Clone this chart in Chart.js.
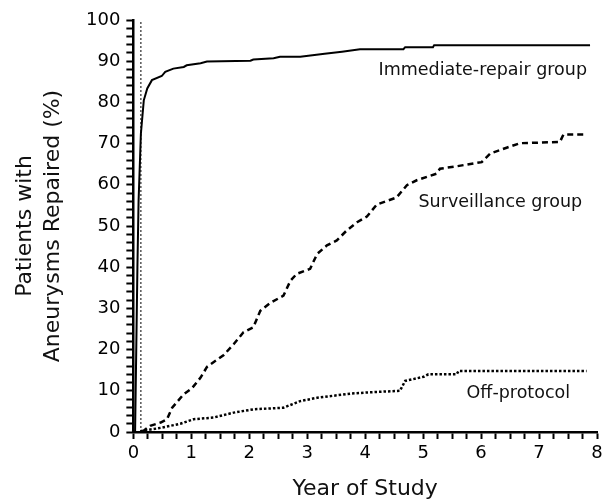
<!DOCTYPE html>
<html>
<head>
<meta charset="utf-8">
<script src="https://cdn.jsdelivr.net/npm/chart.js@4"></script>
<style>
  html, body { margin: 0; padding: 0; background: #fff; }
  #wrap { width: 602px; height: 502px; }
</style>
</head>
<body>
<div id="wrap"><canvas id="repairChart"></canvas></div>
<script>
// values
const repairYears = [0.03, 0.05, 0.07, 0.09, 0.13, 0.18, 0.24, 0.32, 0.49, 0.55, 0.69, 0.87, 0.92, 1.16, 1.27, 2.02, 2.07, 2.42, 2.53, 2.88, 3.3, 3.6, 3.91, 4.66, 4.69, 5.17, 5.19, 7.88];
const repairPct = [0, 20, 40, 56, 72.4, 80.5, 83.4, 85.4, 86.4, 87.4, 88.2, 88.6, 89.0, 89.5, 89.9, 90.1, 90.4, 90.7, 91.1, 91.1, 91.8, 92.3, 92.9, 92.9, 93.4, 93.4, 93.9, 93.9];

const survYears = [0.15, 0.29, 0.47, 0.58, 0.67, 0.87, 1.01, 1.16, 1.27, 1.56, 1.73, 1.90, 2.07, 2.19, 2.36, 2.59, 2.71, 2.82, 3.05, 3.17, 3.34, 3.51, 3.68, 3.86, 4.03, 4.20, 4.54, 4.72, 4.89, 5.23, 5.29, 5.58, 6.01, 6.16, 6.44, 6.67, 7.36, 7.42, 7.78];
const survPct = [0, 1.5, 2.3, 3.1, 5.9, 9.2, 10.6, 13.2, 15.8, 18.7, 21.3, 24.2, 25.4, 29.4, 31.3, 33.1, 36.7, 38.4, 39.6, 43.2, 45.3, 46.5, 48.9, 50.9, 52.3, 55.2, 56.9, 59.9, 61.1, 62.7, 63.9, 64.5, 65.5, 67.6, 69.0, 70.1, 70.4, 72.2, 72.2];

const offYears = [0.12, 0.47, 0.81, 1.04, 1.38, 1.73, 2.07, 2.59, 2.88, 3.17, 3.45, 3.74, 4.03, 4.60, 4.69, 5.01, 5.09, 5.58, 5.61, 7.82];
const offPct = [0.2, 1.0, 2.0, 3.1, 3.5, 4.7, 5.5, 5.9, 7.5, 8.3, 8.8, 9.3, 9.6, 10.0, 12.4, 13.4, 14.0, 14.0, 14.8, 14.8];

const refLineYear = 0.13;

const groupLabels = ['Immediate-repair group', 'Surveillance group', 'Off-protocol'];
const labelYears = [4.23, 4.92, 5.75];
const labelPct = [86.6, 54.7, 8.35];

const toPoints = (xs, ys) => xs.map((x, i) => ({ x: x, y: ys[i] }));

const FONT = 'DejaVu Sans';

// text labels placed next to the curves
const curveLabels = {
    id: 'curveLabels',
    afterDatasetsDraw(chart) {
        const ctx = chart.ctx;
        const xs = chart.scales.x, ys = chart.scales.y;
        ctx.save();
        ctx.fillStyle = '#111';
        ctx.font = '17.5px "' + FONT + '"';
        ctx.textAlign = 'left';
        ctx.textBaseline = 'alphabetic';
        groupLabels.forEach((txt, i) => {
            ctx.fillText(txt, xs.getPixelForValue(labelYears[i]), ys.getPixelForValue(labelPct[i]));
        });
        ctx.restore();
    }
};

const ctx = document.getElementById('repairChart');
new Chart(ctx, {
    type: 'line',
    data: {
        datasets: [{
            label: groupLabels[0],
            data: toPoints(repairYears, repairPct),
            borderColor: '#000',
            borderWidth: 2,
            pointRadius: 0,
            tension: 0
        }, {
            label: groupLabels[1],
            data: toPoints(survYears, survPct),
            borderColor: '#000',
            borderWidth: 2.5,
            borderDash: [6, 4],
            pointRadius: 0,
            tension: 0
        }, {
            label: groupLabels[2],
            data: toPoints(offYears, offPct),
            borderColor: '#000',
            borderWidth: 2.5,
            borderDash: [2.5, 2],
            pointRadius: 0,
            tension: 0
        }, {
            label: 'ref',
            data: toPoints([refLineYear, refLineYear], [0, 100]),
            borderColor: '#000',
            borderWidth: 1,
            borderDash: [2, 2],
            pointRadius: 0
        }]
    },
    options: {
        responsive: true,
        maintainAspectRatio: false,
        animation: false,
        layout: {
            padding: { left: 12, right: 0, top: 20, bottom: 0 }
        },
        plugins: {
            legend: { display: false },
            tooltip: { enabled: false }
        },
        scales: {
            x: {
                type: 'linear',
                min: 0,
                max: 8,
                border: { color: '#000', width: 2.5 },
                grid: {
                    drawOnChartArea: false,
                    tickLength: 7,
                    tickWidth: 2,
                    tickColor: '#000'
                },
                ticks: {
                    stepSize: 0.25,
                    autoSkip: false,
                    maxRotation: 0,
                    color: '#000',
                    padding: 4,
                    font: { family: FONT, size: 18 },
                    callback: v => Number.isInteger(v) ? v : ''
                },
                afterFit: s => { s.paddingRight = 5; },
                title: {
                    display: true,
                    text: 'Year of Study',
                    color: '#111',
                    font: { family: FONT, size: 22 },
                    padding: { top: 7, bottom: 0 }
                }
            },
            y: {
                min: 0,
                max: 100,
                border: { color: '#000', width: 2.5 },
                grid: {
                    drawOnChartArea: false,
                    tickLength: 7,
                    tickWidth: 2,
                    tickColor: '#000'
                },
                ticks: {
                    stepSize: 2,
                    autoSkip: false,
                    color: '#000',
                    padding: 6,
                    font: { family: FONT, size: 18 },
                    callback: v => v % 10 === 0 ? v : ''
                },
                title: {
                    display: true,
                    text: ['Patients with', 'Aneurysms Repaired (%)'],
                    color: '#111',
                    font: { family: FONT, size: 22, lineHeight: 1.25 },
                    padding: { top: 0, bottom: 13 }
                }
            }
        }
    },
    plugins: [curveLabels]
});
</script>
</body>
</html>
